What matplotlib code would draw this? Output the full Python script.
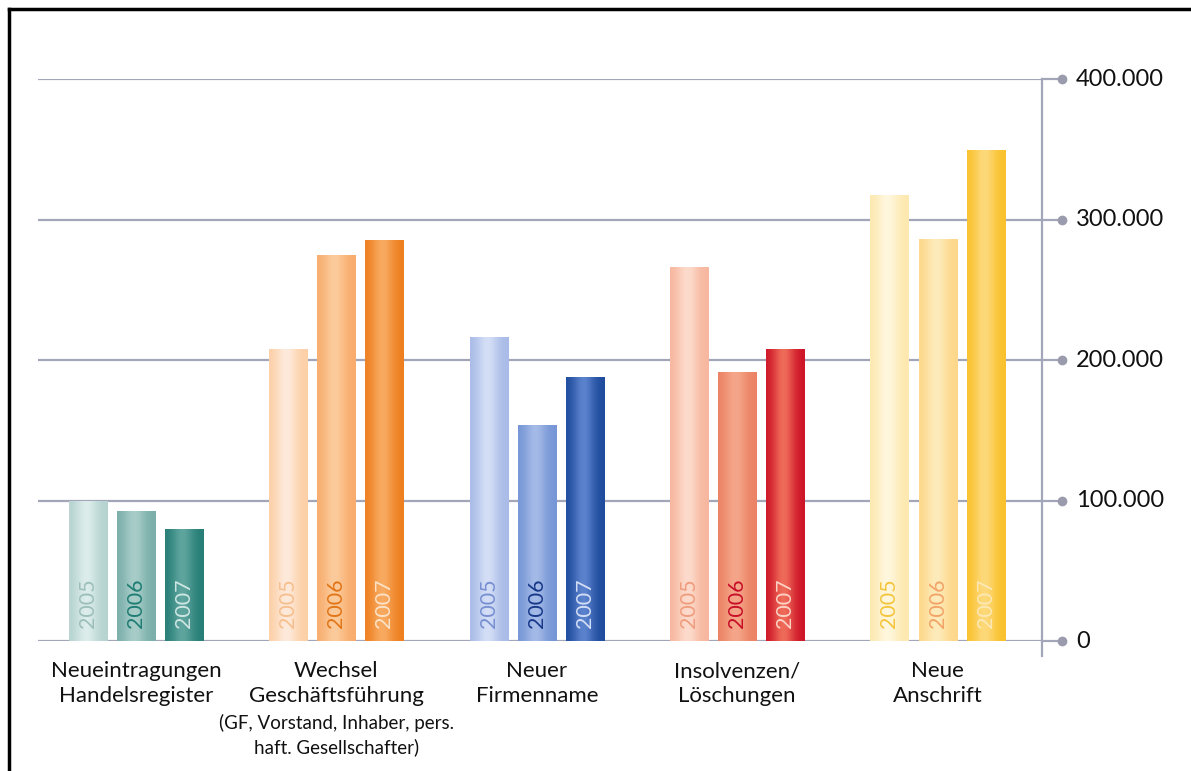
import matplotlib
matplotlib.use("Agg")
import matplotlib.pyplot as plt
import matplotlib.transforms as mtransforms
from matplotlib.lines import Line2D
import numpy as np

plt.rcParams['font.family'] = ['Lato', 'DejaVu Sans']

categories = [["Neueintragungen", "Handelsregister"],
              ["Wechsel", "Geschäftsführung"],
              ["Neuer", "Firmenname"],
              ["Insolvenzen/", "Löschungen"],
              ["Neue", "Anschrift"]]
sub_label = ["(GF, Vorstand, Inhaber, pers.", "haft. Gesellschafter)"]
years = ["2005", "2006", "2007"]

# values per category: 2005, 2006, 2007
values = [[99000, 92000, 79700],
          [207800, 274700, 285400],
          [215800, 153400, 187400],
          [265500, 191000, 207400],
          [316900, 285800, 349300]]

yticks = [0, 100000, 200000, 300000, 400000]
ytick_labels = ["0", "100.000", "200.000", "300.000", "400.000"]

# (edge colour, highlight colour, year text colour)
bar_styles = [
    [("#b5d3d0", "#dcedeb", "#9dbfbb"), ("#7aaea9", "#a8cdc9", "#1f7d74"), ("#267e76", "#5ea59e", "#cfe6e3")],
    [("#fccfa6", "#feeadb", "#f6bf8e"), ("#f8ac6c", "#fccb9c", "#e27618"), ("#ee7f20", "#f8aa60", "#fde2c6")],
    [("#a8bbe7", "#d4def6", "#7890d2"), ("#7595d6", "#a4bae7", "#18398a"), ("#1e4b9c", "#5b82cd", "#d3def6")],
    [("#f7b69e", "#fddbcc", "#ef9d7e"), ("#ec8264", "#f5a68a", "#c70f28"), ("#cd1427", "#ef6b59", "#fdd2c4")],
    [("#fde8ae", "#fff7de", "#f4c53c"), ("#fdd789", "#feebbb", "#f2a468"), ("#f9c12c", "#fdd97a", "#fde9b6")],
]

fig = plt.figure(figsize=(11.91, 7.71), dpi=100)
W, H = 1191, 771
x0_px, x1_px, y0_px, y1_px = 38, 1042, 641, 79
ax = fig.add_axes([x0_px / W, 1 - y0_px / H, (x1_px - x0_px) / W, (y0_px - y1_px) / H])

pitch = 0.24
width = 0.19
ax.axis('off')

grid_col = "#a3a6b8"
ax_h = y0_px - y1_px
ax_w = x1_px - x0_px
trans = mtransforms.blended_transform_factory(ax.transAxes, ax.transData)
for t, lab in zip(yticks, ytick_labels):
    ax.axhline(t, color=grid_col, lw=1.6, zorder=1)
    ax.plot([1, 1 + 20 / ax_w], [t, t], color=grid_col, lw=1.6, transform=trans, clip_on=False)
    ax.plot([1 + 20 / ax_w], [t], 'o', color="#9a9cae", ms=6, transform=trans, clip_on=False)
    ax.text(1 + 34 / ax_w, t, lab, transform=trans, va='center', ha='left', fontsize=17, color="#111111")

ax.plot([1, 1], [1, -15 / ax_h], color=grid_col, lw=1.6, transform=ax.transAxes, clip_on=False)

u = np.linspace(0, 1, 64)
prof = np.exp(-((u - 0.45) / 0.28) ** 2)
for i, (vals, styles) in enumerate(zip(values, bar_styles)):
    for j, (v, st) in enumerate(zip(vals, styles)):
        x = i + (j - 1) * pitch
        rect = ax.bar(x, v, width=width, color=st[0], zorder=2)[0]
        c0 = np.array(matplotlib.colors.to_rgb(st[0]))
        c1 = np.array(matplotlib.colors.to_rgb(st[1]))
        img = c0[None, :] * (1 - prof[:, None]) + c1[None, :] * prof[:, None]
        ax.imshow(img[None, :, :], extent=(rect.get_x(), rect.get_x() + rect.get_width(), 0, v),
                  aspect='auto', zorder=3, interpolation='bilinear')
        ax.text(x, 9000, years[j], rotation=90, ha='center', va='bottom', fontsize=15.5,
                color=st[2], zorder=4)

ax.set_xlim(-0.489, 4.521)
ax.set_ylim(0, 400000)

ltrans = mtransforms.blended_transform_factory(ax.transData, ax.transAxes)
for i, lines in enumerate(categories):
    for k, line in enumerate(lines):
        ypx = 671 + 25 * k
        ax.text(i, (y0_px - ypx) / ax_h, line, transform=ltrans, ha='center', va='center',
                fontsize=16, color="#111111")
for k, line in enumerate(sub_label):
    ypx = 723 + 24.5 * k
    ax.text(1, (y0_px - ypx) / ax_h, line, transform=ltrans, ha='center', va='center',
            fontsize=13.5, color="#111111")

# black frame on top and left
fig.add_artist(Line2D([9 / W, 9 / W], [0, 1 - 9 / H], color='black', lw=2.5))
fig.add_artist(Line2D([9 / W, 1], [1 - 9 / H, 1 - 9 / H], color='black', lw=2.5))

fig.savefig("out.png", dpi=100)
